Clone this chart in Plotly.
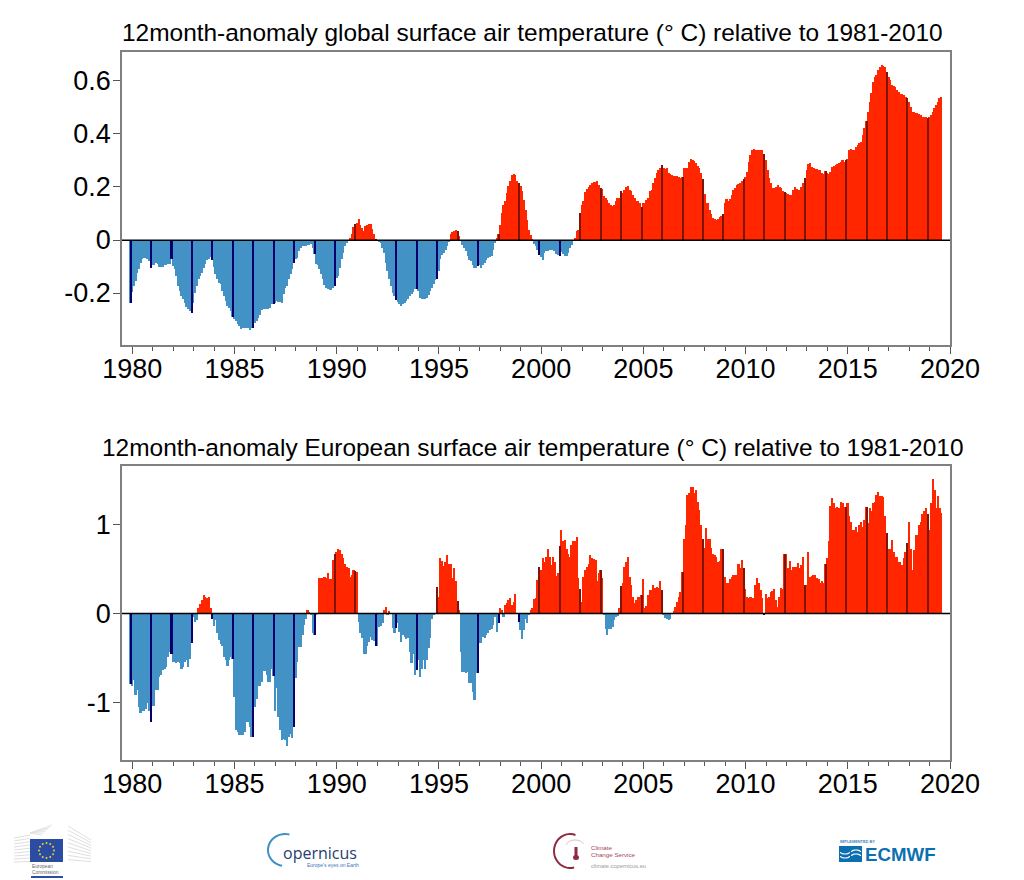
import math
import plotly.graph_objects as go

# 12-month running anomalies, monthly from Dec 1979; each row starts in December
start_year = 1979 + 11 / 12
global_anom = [
 -.236,-.195,-.174,-.155,-.123,-.111,-.086,-.073,-.067,-.067,-.073,-.079,
 -.104,-.096,-.096,-.086,-.092,-.101,-.102,-.101,-.096,-.093,-.092,-.089,
 -.073,-.098,-.111,-.136,-.174,-.192,-.211,-.224,-.239,-.252,-.262,-.268,
 -.274,-.236,-.199,-.174,-.148,-.136,-.123,-.104,-.092,-.077,-.073,-.063,
 -.077,-.101,-.13,-.148,-.161,-.167,-.192,-.211,-.23,-.249,-.255,-.268,
 -.291,-.297,-.306,-.318,-.325,-.335,-.333,-.333,-.332,-.332,-.34,-.333,
 -.331,-.312,-.306,-.293,-.281,-.265,-.262,-.262,-.259,-.262,-.255,-.243,
 -.243,-.236,-.23,-.233,-.234,-.236,-.205,-.18,-.174,-.148,-.13,-.111,
 -.086,-.07,-.067,-.042,-.029,-.023,-.023,-.023,-.019,-.019,-.016,-.029,
 -.054,-.092,-.096,-.111,-.13,-.148,-.171,-.18,-.186,-.19,-.19,-.18,
 -.174,-.142,-.136,-.104,-.073,-.048,-.023,-.01,-.003,.006,.021,.05,
 .059,.065,.08,.055,.047,.034,.053,.057,.059,.059,.04,.021,
 .003,-.002,-.004,-.01,-.029,-.048,-.086,-.117,-.148,-.174,-.199,-.211,
 -.226,-.234,-.243,-.249,-.243,-.236,-.23,-.221,-.211,-.205,-.196,-.186,
 -.184,-.194,-.219,-.222,-.224,-.222,-.219,-.206,-.193,-.18,-.167,-.15,
 -.147,-.118,-.07,-.058,-.048,-.036,-.024,-.008,.024,.031,.035,.037,
 .033,.014,-.001,-.018,-.03,-.043,-.062,-.074,-.08,-.093,-.106,-.106,
 -.099,-.093,-.106,-.093,-.087,-.074,-.068,-.064,-.062,-.036,-.011,.004,
 .024,.058,.102,.133,.146,.177,.203,.221,.247,.249,.247,.221,
 .215,.203,.184,.152,.114,.077,.039,.02,.001,-.014,-.024,-.036,
 -.055,-.064,-.074,-.049,-.043,-.04,-.036,-.039,-.036,-.043,-.052,-.055,
 -.062,-.047,-.052,-.059,-.062,-.049,-.03,-.018,-.001,.004,.033,.039,
 .102,.133,.146,.18,.192,.2,.209,.215,.219,.219,.224,.209,
 .196,.192,.165,.158,.152,.14,.133,.13,.133,.146,.158,.158,
 .184,.177,.19,.2,.203,.19,.184,.171,.158,.146,.146,.14,
 .125,.14,.14,.152,.158,.184,.19,.215,.234,.253,.265,.272,
 .284,.272,.269,.272,.253,.25,.247,.243,.243,.24,.236,.233,
 .236,.273,.273,.273,.296,.306,.302,.298,.289,.279,.27,.252,
 .229,.172,.138,.138,.113,.098,.084,.079,.075,.079,.086,.092,
 .097,.138,.153,.147,.153,.17,.189,.195,.208,.211,.216,.224,
 .229,.239,.258,.296,.321,.34,.343,.34,.34,.34,.34,.34,
 .323,.302,.264,.233,.214,.195,.195,.201,.208,.201,.195,.185,
 .18,.176,.174,.17,.17,.189,.199,.192,.189,.189,.201,.214,
 .233,.264,.287,.289,.277,.27,.268,.268,.264,.264,.254,.249,
 .26,.254,.249,.258,.277,.279,.283,.287,.292,.296,.302,.296,
 .302,.304,.34,.343,.34,.34,.35,.358,.365,.371,.396,.421,
 .45,.484,.522,.556,.594,.616,.623,.642,.654,.659,.657,.654,
 .635,.616,.604,.585,.579,.576,.566,.56,.551,.55,.547,.541,
 .537,.522,.503,.484,.484,.478,.478,.475,.472,.465,.463,.462,
 .459,.463,.472,.484,.497,.509,.522,.535,.541,
]
europe_anom = [
 -.79,-.81,-.75,-.92,-.86,-1.05,-1.12,-1.09,-1.09,-1.07,-1.0,-1.09,
 -1.22,-1.04,-1.04,-.86,-.86,-.71,-.69,-.64,-.62,-.6,-.49,-.43,
 -.46,-.54,-.55,-.56,-.54,-.56,-.62,-.6,-.54,-.52,-.6,-.51,
 -.33,-.04,-.1,-.07,.06,.11,.15,.21,.19,.17,.19,.06,
 -.06,-.14,-.07,-.22,-.3,-.34,-.36,-.49,-.52,-.59,-.52,-.49,
 -.51,-.94,-1.31,-1.33,-1.37,-1.37,-1.37,-1.33,-1.22,-1.22,-1.27,-1.39,
 -1.39,-1.05,-.96,-.82,-.81,-.77,-.65,-.65,-.69,-.77,-.77,-.62,
 -.7,-1.1,-.84,-1.16,-1.31,-1.42,-1.41,-1.42,-1.49,-1.39,-1.35,-1.4,
 -1.28,-.72,-.54,-.38,-.38,-.24,-.13,-.06,.04,.02,-.02,-.22,
 -.24,-.02,0,.4,.4,.4,.41,.4,.45,.39,.39,.6,
 .67,.69,.72,.71,.67,.62,.56,.52,.51,.41,.43,.49,
 .48,.47,-.1,-.22,-.28,-.45,-.45,-.36,-.32,-.26,-.3,-.31,
 -.37,-.37,-.15,-.14,-.11,.04,.07,-.02,.03,0,-.16,-.22,
 -.16,-.11,-.21,-.32,-.24,-.26,-.29,-.28,-.43,-.56,-.45,-.69,
 -.64,-.52,-.71,-.62,-.52,-.62,-.52,-.39,-.28,-.06,-.02,0,
 .3,.19,.62,.59,.53,.58,.66,.56,.56,.4,.51,.36,
 .14,.04,-.43,-.66,-.66,-.67,-.66,-.78,-.78,-.88,-.97,-.67,
 -.67,-.33,-.33,-.26,-.27,-.24,-.22,-.18,-.17,-.13,-.04,-.21,
 -.11,.06,.04,-.04,.1,.12,.15,.17,.1,.13,.22,0,
 -.09,-.19,-.29,-.18,-.06,-.11,-.02,.04,.06,.16,.17,.38,
 .52,.49,.62,.58,.63,.72,.64,.54,.64,.58,.42,.46,
 .76,.94,.81,.83,.73,.67,.64,.77,.81,.82,.86,.4,
 .27,.13,.41,.49,.52,.56,.66,.62,.61,.6,.37,.45,
 .49,.4,-.02,-.17,-.24,-.17,-.17,-.15,-.07,-.04,-.03,.06,
 .31,.34,.52,.58,.64,.41,.32,.19,.12,.15,.19,.19,
 .21,.39,.06,.08,.21,.26,.26,.32,.29,.3,.29,.36,
 .26,-.02,-.05,-.06,-.07,-.06,0,.03,.07,.13,.19,.24,
 .47,.84,.99,1.33,1.35,1.42,1.42,1.35,1.39,1.25,1.16,.99,
 .84,.74,.96,.84,.84,.74,.67,.66,.63,.58,.59,.73,
 .72,.41,.34,.34,.39,.41,.43,.43,.43,.56,.51,.6,
 .51,.28,.19,.17,.18,.17,.17,.32,.4,.34,.26,.17,
 -.01,.22,.17,.19,.24,.25,.28,.15,.07,.19,.29,.28,
 .67,.67,.51,.59,.49,.52,.52,.52,.57,.51,.54,.63,
 .32,.32,.69,.41,.42,.43,.43,.4,.39,.34,.36,.34,
 .56,.62,.81,1.21,1.3,1.24,1.18,1.2,1.18,1.25,1.24,1.2,
 1.2,1.24,1.1,1.03,.94,.94,.97,.92,.99,1.03,.97,1.05,
 1.2,1.02,1.19,1.15,1.24,1.25,1.33,1.37,1.32,1.32,1.31,1.1,
 .9,.73,.73,.83,.69,.64,.63,.58,.58,.54,.62,.69,
 .79,1.03,.73,.49,.71,.88,.88,.99,1.03,1.12,1.15,1.19,
 1.12,.94,1.24,1.51,1.39,1.18,1.32,1.18,1.13,
]
year_ticks = [1980, 1985, 1990, 1995, 2000, 2005, 2010, 2015, 2020]
global_ticks = [0.6, 0.4, 0.2, 0, -0.2]
global_labels = ["0.6", "0.4", "0.2", "0", "-0.2"]
europe_ticks = [1, 0, -1]
europe_labels = ["1", "0", "-1"]
title_global = "12month-anomaly global surface air temperature (° C) relative to 1981-2010"
title_europe = "12month-anomaly European surface air temperature (° C) relative to 1981-2010"

BLUE, RED, DBLUE, DRED = "#4292c6", "#ff2600", "#08006e", "#7f1408"
FONT = "Liberation Sans"
W, H = 1024, 880
def X(p): return p / W
def Y(p): return 1 - p / H

fig = go.Figure()
panels = [(global_anom, "x", "y"), (europe_anom, "x2", "y2")]
for vals, xa, ya in panels:
    xs = [start_year + i / 12 for i in range(len(vals))]
    fig.add_trace(go.Bar(x=xs, y=vals, xaxis=xa, yaxis=ya, width=1 / 12,
                         marker=dict(color=[BLUE if v < 0 else RED for v in vals], line_width=0),
                         showlegend=False, hoverinfo="x+y"))
    fig.add_trace(go.Bar(x=xs[::12], y=vals[::12], xaxis=xa, yaxis=ya, width=1.2 / 12,
                         marker=dict(color=[DBLUE if v < 0 else DRED for v in vals[::12]], line_width=0),
                         showlegend=False, hoverinfo="x+y"))

xcommon = dict(range=[1979.496, 2020], tickmode="array", tickvals=year_ticks,
               ticks="outside", ticklen=7, tickwidth=1, tickcolor="#555", ticklabelstandoff=-8,
               minor=dict(dtick=1, tick0=1980, ticks="outside", ticklen=4, tickcolor="#555", tickwidth=1),
               showgrid=False, zeroline=False, showline=True, linecolor="#808080", linewidth=1.5,
               mirror=True, tickfont=dict(family=FONT, size=27, color="black"))
ycommon = dict(tickmode="array", ticks="outside", ticklen=7, tickwidth=1, tickcolor="#555", ticklabelstandoff=-3,
               showgrid=False, zeroline=False, showline=True, linecolor="#808080", linewidth=1.5,
               mirror=True, tickfont=dict(family=FONT, size=27, color="black"))

shapes = []
annots = []
def line(x0, y0, x1, y1, c, w=1):
    shapes.append(dict(type="line", xref="paper", yref="paper", x0=X(x0), y0=Y(y0), x1=X(x1), y1=Y(y1),
                       line=dict(color=c, width=w), layer="above"))
def rect(x0, y0, x1, y1, c):
    shapes.append(dict(type="rect", xref="paper", yref="paper", x0=X(x0), y0=Y(y0), x1=X(x1), y1=Y(y1),
                       fillcolor=c, line_width=0, layer="above"))
def arc(cx, cy, rx, ry, a0, a1, c, w):
    n = 24
    pts = [(X(cx + rx * math.cos(math.radians(a0 + (a1 - a0) * k / n))),
            Y(cy + ry * math.sin(math.radians(a0 + (a1 - a0) * k / n)))) for k in range(n + 1)]
    p = "M" + " L".join(f"{a:.5f},{b:.5f}" for a, b in pts)
    shapes.append(dict(type="path", xref="paper", yref="paper", path=p, line=dict(color=c, width=w), layer="above"))
def text(x, y, s, size, c, anchor="left", bold=False, family=FONT):
    annots.append(dict(xref="paper", yref="paper", x=X(x), y=Y(y), text=f"<b>{s}</b>" if bold else s,
                       showarrow=False, xanchor=anchor, yanchor="middle",
                       font=dict(family=family, size=size, color=c), borderpad=0))

# zero lines
for y0 in (240.3, 613.5):
    line(122, y0, 950, y0, "black", 1.5)

# European Commission
for i in range(9):
    yy = 838 + i * 3
    line(14, yy, 30, yy - 3 + i * 0.3, "#d6d6d6", 0.8)
    line(68, 826 + i * 4.2, 91, 840 + i * 2.7, "#d6d6d6", 0.8)
for i in range(6):
    line(30, 833, 52 - i * 2, 825 + i * 2, "#dedede", 0.8)
rect(30, 839, 63, 862, "#2a4ca3")
for k in range(12):
    a = math.radians(30 * k)
    cx, cy = 46.5 + 7.5 * math.cos(a), 850.5 + 7.5 * math.sin(a)
    shapes.append(dict(type="circle", xref="paper", yref="paper", x0=X(cx - 1), x1=X(cx + 1),
                       y0=Y(cy - 1), y1=Y(cy + 1), fillcolor="#f0d020", line_width=0, layer="above"))
text(31, 866, "European", 4.8, "#666")
text(31, 872, "Commission", 4.8, "#666")
rect(31, 876, 63, 878, "#2a4ca3")

# Copernicus
arc(285, 850, 17, 16, 285, 100, "#3f8fc4", 2)
text(282, 853, "opernicus", 16, "#27406e", family="Open Sans")
text(306, 865, "Europe's eyes on Earth", 5, "#3a78b5")

# Climate Change Service
arc(570, 851, 16, 17, 290, 75, "#8e2a43", 2)
arc(575, 846, 9, 6, 190, 340, "#c9a3ad", 0.7)
rect(574.5, 847, 577.5, 857, "#8e2a43")
shapes.append(dict(type="circle", xref="paper", yref="paper", x0=X(573), x1=X(579), y0=Y(855), y1=Y(860),
                   fillcolor="#8e2a43", line_width=0, layer="above"))
text(590, 847, "Climate", 6.2, "#a8455c")
text(590, 854, "Change Service", 6.2, "#a8455c")
text(590, 866, "climate.copernicus.eu", 5.7, "#999")

# ECMWF
text(839, 841, "IMPLEMENTED BY", 3.9, "#3a85bf", bold=True)
rect(839, 846, 862, 862, "#0b6fb0")
for yy in (852, 856):
    arc(845, yy, 4.5, 2, 0, 180, "white", 1.2)
    arc(856, yy, 4.5, 2, 180, 360, "white", 1.2)
text(864, 854, "ECMWF", 18.7, "#0b6fb0", bold=True)

# chart titles
text(532.5, 33, title_global, 24.45, "black", anchor="center")
text(532.5, 448, title_europe, 24.45, "black", anchor="center")

fig.update_layout(
    width=W, height=H, margin=dict(l=0, r=0, t=0, b=0, autoexpand=False), autosize=False,
    paper_bgcolor="white", plot_bgcolor="white", barmode="overlay", bargap=0, showlegend=False,
    xaxis=dict(domain=[X(122), X(950)], anchor="y", **xcommon),
    yaxis=dict(domain=[Y(345), Y(52)], anchor="x", range=[-.396, .709],
               tickvals=global_ticks, ticktext=global_labels, **ycommon),
    xaxis2=dict(domain=[X(122), X(950)], anchor="y2", **xcommon),
    yaxis2=dict(domain=[Y(760), Y(466)], anchor="x2", range=[-1.646, 1.657],
                tickvals=europe_ticks, ticktext=europe_labels, **ycommon),
    shapes=shapes, annotations=annots,
)
fig.write_html("out.html", config=dict(displayModeBar=False),
               post_script="document.body.style.margin='0';document.body.style.overflow='hidden';")
